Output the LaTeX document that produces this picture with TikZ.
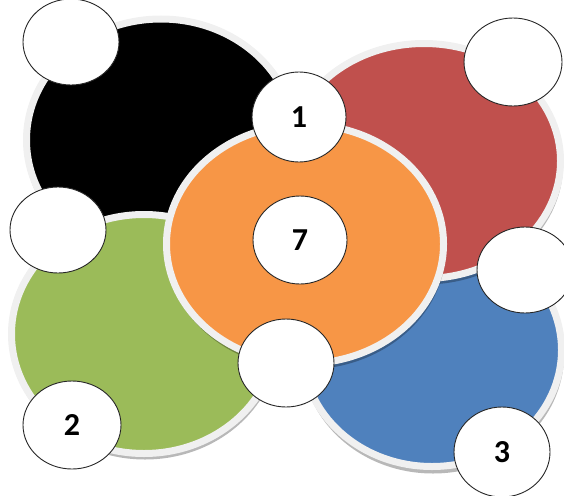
\documentclass[tikz,border=0pt]{standalone}
\usepackage{fontspec}
\setmainfont{Carlito}
\usetikzlibrary{shapes.geometric}
\definecolor{cblack}{HTML}{000000}
\definecolor{cred}{HTML}{C0504D}
\definecolor{cgreen}{HTML}{9BBB59}
\definecolor{cblue}{HTML}{4F81BD}
\definecolor{corange}{HTML}{F79646}
\definecolor{ringc}{HTML}{F0F0F0}
\tikzset{
  bigdisc/.style={ellipse, inner sep=0pt, outer sep=0pt, draw=ringc, line width=7pt},
  discshadow/.style={ellipse, inner sep=0pt, outer sep=0pt, fill=black, fill opacity=0.28},
  lbl/.style={ellipse, inner sep=0pt, draw=black!85, line width=0.9pt, fill=white,
    font=\fontsize{32}{32}\selectfont\bfseries, text=black}
}
\begin{document}
\begin{tikzpicture}[x=1pt,y=-1pt]
\useasboundingbox (0,0) rectangle (564,495);
% black
\node[discshadow, minimum width=272pt, minimum height=247pt] (bs) at (161,144) {};
\node[bigdisc, fill=cblack, minimum width=269pt, minimum height=242pt] (bk) at (161,140) {};
% green
\node[discshadow, minimum width=268pt, minimum height=243pt] (gs) at (145,338) {};
\node[bigdisc, fill=cgreen, minimum width=265pt, minimum height=239pt] (gr) at (144,334) {};
% blue
\node[discshadow, minimum width=262pt, minimum height=237pt] (bls) at (433,355) {};
\node[bigdisc, fill=cblue, minimum width=259pt, minimum height=233pt] (bl) at (432,350) {};
% red
\node[discshadow, minimum width=276pt, minimum height=239pt] (rs) at (425,165) {};
\node[bigdisc, fill=cred, minimum width=273pt, minimum height=235pt] (rd) at (424,161) {};
% orange
\node[discshadow, minimum width=280pt, minimum height=243pt] (os) at (306,248) {};
\node[bigdisc, fill=corange, minimum width=277pt, minimum height=239pt] (or) at (305,244) {};
% labels
\node[lbl, minimum width=96pt, minimum height=86pt] (ltl) at (71,42) {};
\node[lbl, minimum width=94pt, minimum height=90pt] (one) at (299,117) {1};
\node[lbl, minimum width=98pt, minimum height=88pt] (ltr) at (513,62) {};
\node[lbl, minimum width=96pt, minimum height=86pt] (lml) at (58,230) {};
\node[lbl, minimum width=94pt, minimum height=88pt] (seven) at (300,240) {7};
\node[lbl, minimum width=96pt, minimum height=86pt] (lmr) at (525,270) {};
\node[lbl, minimum width=96pt, minimum height=88pt] (lbc) at (286,363) {};
\node[lbl, minimum width=98pt, minimum height=88pt] (two) at (72,425) {2};
\node[lbl, minimum width=96pt, minimum height=90pt] (three) at (502,452) {3};
\end{tikzpicture}
\end{document}
